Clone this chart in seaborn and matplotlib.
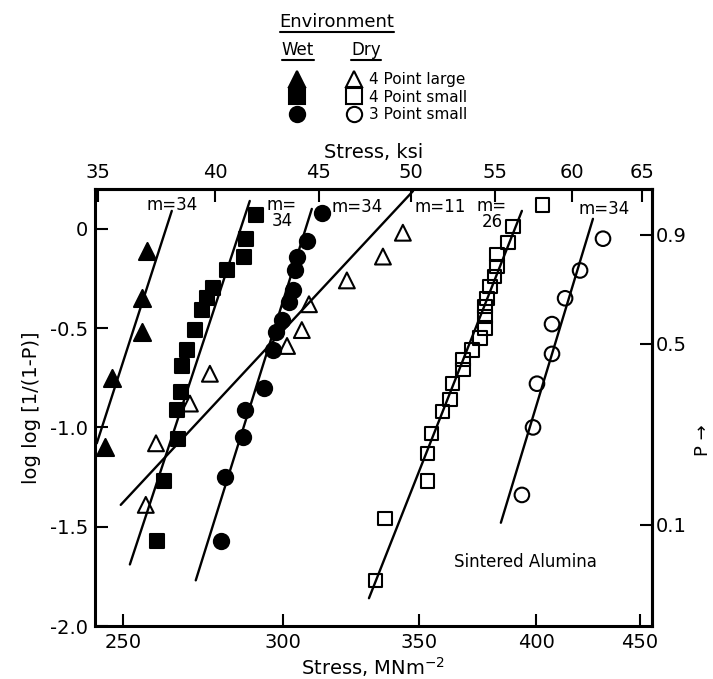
import numpy as np
import pandas as pd
import matplotlib.pyplot as plt
import seaborn as sns
from matplotlib.lines import Line2D
from matplotlib.ticker import NullLocator

# Weibull plot for sintered alumina
# stress in MN/m^2, y = log log [1/(1-P)]

# wet environment (filled markers)
wet_4pl_stress = [256.9, 255.5, 255.5, 246.9, 244.9]
wet_4pl_y = [-0.11, -0.35, -0.52, -0.75, -1.10]
wet_4ps_stress = [290.8, 287.5, 286.9, 281.4, 276.9, 275.1, 273.5, 271.3, 268.9,
                  267.3, 267.0, 265.8, 266.1, 261.9, 259.9]
wet_4ps_y = [0.07, -0.05, -0.14, -0.21, -0.30, -0.35, -0.41, -0.51, -0.61,
             -0.69, -0.82, -0.91, -1.06, -1.27, -1.57]
wet_3ps_stress = [313.5, 308.2, 304.7, 304.0, 303.3, 301.9, 299.5, 297.5, 296.5,
                  293.5, 287.2, 286.5, 280.7, 279.5]
wet_3ps_y = [0.08, -0.06, -0.14, -0.21, -0.31, -0.37, -0.46, -0.52, -0.61,
             -0.80, -0.91, -1.05, -1.25, -1.57]

# dry environment (open markers)
dry_4pl_stress = [343.7, 336.0, 322.5, 308.9, 306.4, 301.3, 276.0, 269.8, 259.6, 256.6]
dry_4pl_y = [-0.02, -0.14, -0.26, -0.38, -0.51, -0.59, -0.73, -0.88, -1.08, -1.39]
dry_4ps_stress = [403.0, 389.5, 387.3, 382.5, 382.5, 381.6, 379.5, 378.2, 377.3, 377.3,
                  377.3, 375.2, 371.8, 368.0, 368.0, 363.8, 362.6, 359.7, 355.2, 353.6,
                  353.6, 336.8, 333.3]
dry_4ps_y = [0.12, 0.01, -0.07, -0.13, -0.19, -0.24, -0.29, -0.35, -0.39, -0.44,
             -0.50, -0.55, -0.61, -0.66, -0.71, -0.78, -0.86, -0.92, -1.03, -1.13,
             -1.27, -1.46, -1.77]
dry_3ps_stress = [431.5, 420.4, 413.3, 407.2, 407.2, 400.3, 398.5, 393.5]
dry_3ps_y = [-0.05, -0.21, -0.35, -0.48, -0.63, -0.78, -1.00, -1.34]

# fitted lines (end points)
fit_wet_4pl = ([242.7, 264.3], [-1.08, 0.09])
fit_wet_4ps = ([252.0, 288.8], [-1.69, 0.14])
fit_wet_3ps = ([271.6, 309.9], [-1.77, 0.10])
fit_dry_4pl = ([249.4, 347.7], [-1.39, 0.19])
fit_dry_4ps = ([330.7, 393.5], [-1.86, 0.09])
fit_dry_3ps = ([384.2, 426.6], [-1.48, 0.05])

# Weibull modulus labels
m_labels = ["m=34", "m=\n34", "m=34", "m=11", "m=\n26", "m=34"]
m_label_x = [264.3, 299.5, 326.2, 358.5, 380.3, 432.0]
m_label_y = [0.12, 0.08, 0.11, 0.11, 0.075, 0.10]

test_labels = ["4 Point large", "4 Point small", "3 Point small"]

mpa_ticks = [250, 300, 350, 400, 450]
ksi_ticks = [35, 40, 45, 50, 55, 60, 65]
loglog_ticks = [0, -0.5, -1.0, -1.5, -2.0]
loglog_labels = ["0", "-0.5", "-1.0", "-1.5", "-2.0"]
p_tick_pos = [-0.03, -0.58, -1.49]
p_labels = ["0.9", "0.5", "0.1"]

KSI = 6.94  # MN/m^2 per ksi, as the top scale is drawn

sns.set_style("ticks")
plt.rcParams["font.family"] = ["DejaVu Sans"]
plt.rcParams.update({"text.color": "black", "axes.labelcolor": "black",
                     "axes.edgecolor": "black", "xtick.color": "black",
                     "ytick.color": "black"})

fig = plt.figure(figsize=(7.13, 6.79), dpi=100)
ax = fig.add_axes([0.1332, 0.078, 0.7812, 0.6436])
ax.set_xscale("log")

points = [
    (wet_4pl_stress, wet_4pl_y, "^", "black", 150),
    (wet_4ps_stress, wet_4ps_y, "s", "black", 100),
    (wet_3ps_stress, wet_3ps_y, "o", "black", 120),
    (dry_4pl_stress, dry_4pl_y, "^", "none", 130),
    (dry_4ps_stress, dry_4ps_y, "s", "none", 90),
    (dry_3ps_stress, dry_3ps_y, "o", "none", 110),
]
for xs, ys, mk, fc, size in points:
    df = pd.DataFrame({"stress": xs, "loglog": ys})
    sns.scatterplot(data=df, x="stress", y="loglog", marker=mk, s=size,
                    color="black", facecolor=fc, edgecolor="black",
                    linewidth=1.5, ax=ax, zorder=3)

for xs, ys in [fit_wet_4pl, fit_wet_4ps, fit_wet_3ps, fit_dry_4pl, fit_dry_4ps, fit_dry_3ps]:
    sns.lineplot(x=xs, y=ys, color="black", linewidth=1.7, estimator=None,
                 sort=False, ax=ax, zorder=2)

for txt, x, y in zip(m_labels, m_label_x, m_label_y):
    ax.text(x, y, txt, ha="center", va="center", fontsize=12, linespacing=0.9)

ax.text(395.3, -1.68, "Sintered Alumina", ha="center", va="center", fontsize=12)

ax.set_xlim(242.2, 456.2)
ax.set_ylim(-2.0, 0.2)
ax.set_xticks(mpa_ticks, labels=[str(t) for t in mpa_ticks])
ax.xaxis.set_minor_locator(NullLocator())
ax.set_yticks(loglog_ticks, labels=loglog_labels)
ax.tick_params(direction="in", length=9, width=1.5, labelsize=14, pad=5)
ax.set_xlabel("Stress, MNm$^{-2}$", fontsize=14, labelpad=2)
ax.set_ylabel("log log [1/(1-P)]", fontsize=14, labelpad=6)
for sp in ax.spines.values():
    sp.set_linewidth(2.2)

top = ax.secondary_xaxis("top", functions=(lambda x: x / KSI, lambda x: x * KSI))
top.set_xticks(ksi_ticks, labels=[str(t) for t in ksi_ticks])
top.xaxis.set_minor_locator(NullLocator())
top.tick_params(direction="in", length=9, width=1.5, labelsize=14, pad=5)
top.set_xlabel("Stress, ksi", fontsize=14, labelpad=4)
top.spines["top"].set_linewidth(2.2)

right = ax.secondary_yaxis("right")
right.set_yticks(p_tick_pos, labels=p_labels)
right.yaxis.set_minor_locator(NullLocator())
right.tick_params(direction="in", length=9, width=1.5, labelsize=14, pad=3)
right.spines["right"].set_linewidth(2.2)

fig.text(703 / 713, 1 - 440 / 679, "P \u2192", rotation=90, ha="center",
         va="center", fontsize=13)

# legend block above the plot
handles = []
for fc in ["black", "none"]:
    for mk in ["^", "s", "o"]:
        handles.append(Line2D([], [], ls="", marker=mk, ms=11, mfc=fc,
                              mec="black", mew=1.5, color="black"))
fig.legend(handles, ["", "", ""] + test_labels, ncol=2, loc="upper left",
           bbox_to_anchor=(289 / 713, 1 - 72 / 679), frameon=False, fontsize=11,
           handlelength=1.0, handletextpad=0.5, columnspacing=2.25,
           labelspacing=0.17, borderpad=0, borderaxespad=0)

heads = [
    fig.text(337 / 713, 1 - 22 / 679, "Environment", ha="center", va="center", fontsize=13),
    fig.text(298 / 713, 1 - 50 / 679, "Wet", ha="center", va="center", fontsize=12),
    fig.text(366 / 713, 1 - 50 / 679, "Dry", ha="center", va="center", fontsize=12),
]
fig.canvas.draw()
inv = fig.transFigure.inverted()
for t in heads:
    bb = t.get_window_extent()
    (x0, y0), (x1, _) = inv.transform([(bb.x0, bb.y0 - 1), (bb.x1, bb.y0)])
    fig.add_artist(Line2D([x0, x1], [y0, y0], transform=fig.transFigure,
                          color="black", lw=1.5))

fig.savefig("out.png", dpi=100)
